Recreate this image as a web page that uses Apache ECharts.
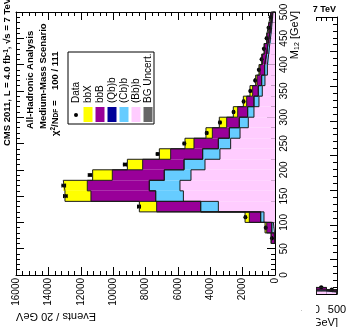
<!DOCTYPE html>
<html>
<head>
<meta charset="utf-8">
<script src="https://cdn.jsdelivr.net/npm/echarts@6/dist/echarts.min.js"></script>
<style>
html, body { margin: 0; padding: 0; background: #fff; }
#main { width: 360px; height: 327px; }
</style>
</head>
<body>
<div id="main"></div>
<script>
// M12 bins (low edge, GeV), 20 GeV wide
var binLow = [60, 80, 100, 120, 140, 160, 180, 200, 220, 240, 260, 280, 300, 320, 340, 360, 380, 400, 420, 440, 460, 480];
var binWidth = 20;

// events / 20 GeV, stacked from the axis outwards
var bbBbEvents = [30, 100, 680, 3500, 5660, 5870, 5190, 4325, 3400, 2740, 2160, 1650, 1300, 990, 785, 620, 470, 390, 320, 240, 180, 120];
var cbBEvents  = [20, 100, 205, 1090, 1710, 1895, 1650, 1295, 1070, 760, 660, 555, 390, 310, 245, 205, 170, 130, 110, 80, 60, 40];
var qbBEvents  = [0, 0, 0, 0, 0, 0, 0, 0, 0, 0, 0, 0, 0, 0, 0, 0, 0, 0, 0, 0, 0, 0];
var bbBEvents  = [180, 310, 700, 2720, 4000, 3830, 3210, 2555, 1975, 1505, 1050, 780, 615, 450, 350, 285, 290, 250, 210, 170, 130, 90];
var bbXEvents  = [15, 105, 265, 1070, 1605, 1485, 1215, 945, 700, 555, 395, 455, 270, 205, 165, 85, 60, 55, 40, 25, 20, 15];
var dataEvents = [190, 575, 1830, 8400, 12950, 13050, 11430, 9270, 7250, 5600, 4220, 3400, 2560, 1940, 1530, 1230, 1000, 830, 690, 520, 400, 270];

// neighbouring figure (not rotated), only its right edge shows
var fragBinLow = [460, 480];
var fragBbBb = [170, 110];
var fragCbB  = [60, 40];
var fragQbB  = [0, 0];
var fragBbB  = [130, 90];
var fragBbX  = [20, 15];
var fragData = [390, 260];

var colBbB = '#ffccff', colCbB = '#66ccff', colQbB = '#000099', colbbB = '#990099', colbbX = '#ffff00', colUnc = '#666666';

var legendNames  = ['Data', 'bbX', 'bbB', '(Qb)b', '(Cb)b', '(Bb)b', 'BG Uncert.'];
var legendColors = [null, colbbX, colbbB, colQbB, colCbB, colBbB, colUnc];

var font = 'Liberation Sans, Arial, Helvetica, sans-serif';

// grid 0: events on x, M12 on y; grid 1: M12 on x, events on y
function pt(gi, v, m) { return gi === 0 ? [v, m] : [m, v]; }

function cumulate(layers) {
  var out = [], run = layers[0].map(function () { return 0; });
  layers.forEach(function (l) {
    var lo = run.slice();
    run = run.map(function (r, i) { return r + l[i]; });
    out.push({ lo: lo, hi: run.slice() });
  });
  return out;
}

function fillSeries(bins, lo, hi, color, gi) {
  return {
    type: 'custom', xAxisIndex: gi === 0 ? 0 : 2, yAxisIndex: gi === 0 ? 0 : 2,
    silent: true,
    data: bins.map(function (b, i) { return [lo[i], hi[i], b]; }),
    renderItem: function (params, api) {
      var m = api.value(2);
      var p0 = api.coord(pt(gi, api.value(0), m));
      var p1 = api.coord(pt(gi, api.value(1), m + binWidth));
      return {
        type: 'rect',
        shape: { x: Math.min(p0[0], p1[0]), y: Math.min(p0[1], p1[1]), width: Math.abs(p1[0] - p0[0]), height: Math.abs(p1[1] - p0[1]) },
        style: { fill: color }
      };
    }
  };
}

function outlineSeries(bins, top, gi) {
  var pts = [pt(gi, 0, bins[0])];
  bins.forEach(function (b, i) { pts.push(pt(gi, top[i], b)); pts.push(pt(gi, top[i], b + binWidth)); });
  pts.push(pt(gi, 0, bins[bins.length - 1] + binWidth));
  return {
    type: 'line', xAxisIndex: gi === 0 ? 0 : 2, yAxisIndex: gi === 0 ? 0 : 2,
    data: pts, symbol: 'none', silent: true,
    lineStyle: { color: '#1a1a1a', width: 1 }
  };
}

function dataSeries(bins, vals, gi) {
  return {
    type: 'custom', xAxisIndex: gi === 0 ? 0 : 2, yAxisIndex: gi === 0 ? 0 : 2,
    silent: true,
    data: bins.map(function (b, i) { return [vals[i], b + binWidth / 2]; }),
    renderItem: function (params, api) {
      var v = api.value(0), m = api.value(1);
      var e = Math.sqrt(v);
      var c = api.coord(pt(gi, v, m));
      var l = api.coord(pt(gi, v - e, m)), r = api.coord(pt(gi, v + e, m));
      var st = { stroke: '#000', lineWidth: 1 };
      var kids;
      if (gi === 0) {
        kids = [
          { type: 'line', shape: { x1: l[0], y1: c[1], x2: r[0], y2: c[1] }, style: st },
          { type: 'line', shape: { x1: l[0], y1: c[1] - 2, x2: l[0], y2: c[1] + 2 }, style: st },
          { type: 'line', shape: { x1: r[0], y1: c[1] - 2, x2: r[0], y2: c[1] + 2 }, style: st }
        ];
      } else {
        kids = [
          { type: 'line', shape: { x1: c[0], y1: l[1], x2: c[0], y2: r[1] }, style: st },
          { type: 'line', shape: { x1: c[0] - 2, y1: l[1], x2: c[0] + 2, y2: l[1] }, style: st },
          { type: 'line', shape: { x1: c[0] - 2, y1: r[1], x2: c[0] + 2, y2: r[1] }, style: st }
        ];
      }
      kids.push({ type: 'circle', shape: { cx: c[0], cy: c[1], r: 2 }, style: { fill: '#000' } });
      return { type: 'group', children: kids };
    }
  };
}

function buildSeries(bins, layers, colors, vals, gi) {
  var cum = cumulate(layers);
  var s = [];
  cum.forEach(function (c, k) { s.push(fillSeries(bins, c.lo, c.hi, colors[k], gi)); });
  cum.forEach(function (c) { s.push(outlineSeries(bins, c.hi, gi)); });
  s.push(dataSeries(bins, vals, gi));
  return s;
}

var layerColors = [colBbB, colCbB, colQbB, colbbB, colbbX];
var series = buildSeries(binLow, [bbBbEvents, cbBEvents, qbBEvents, bbBEvents, bbXEvents], layerColors, dataEvents, 0)
  .concat(buildSeries(fragBinLow, [fragBbBb, fragCbB, fragQbB, fragBbB, fragBbX], layerColors, fragData, 1));

var black = { color: '#000', width: 1 };
function valAxis(extra) {
  var a = {
    type: 'value', scale: false,
    axisLine: { show: true, onZero: false, lineStyle: black },
    axisTick: { show: true, inside: true, length: 8, lineStyle: black },
    minorTick: { show: true, splitNumber: 5, length: 4, lineStyle: black },
    splitLine: { show: false },
    axisLabel: { show: false, color: '#000', fontFamily: font, fontSize: 10,
      formatter: function (v) { return String(v); } }
  };
  for (var k in extra) {
    if (typeof extra[k] === 'object' && a[k]) { for (var j in extra[k]) a[k][j] = extra[k][j]; }
    else a[k] = extra[k];
  }
  return a;
}

// legend + text graphics
var graphics = [];
graphics.push({ type: 'rect', shape: { x: 68, y: 52, width: 86, height: 72 }, style: { fill: '#fff', stroke: '#000', lineWidth: 1 } });
legendNames.forEach(function (n, i) {
  var cx = 76 + i * 12;
  if (legendColors[i]) {
    graphics.push({ type: 'rect', shape: { x: cx - 4.5, y: 107, width: 9, height: 15 }, style: { fill: legendColors[i] } });
  } else {
    graphics.push({ type: 'circle', shape: { cx: cx, cy: 115, r: 2 }, style: { fill: '#000' } });
  }
  graphics.push({ type: 'text', x: cx, y: 103, rotation: Math.PI / 2,
    style: { text: n, fill: '#000', font: '10px ' + font, align: 'left', verticalAlign: 'middle' } });
});

function vtext(x, y, txt, rich, align) {
  return { type: 'text', x: x, y: y, rotation: Math.PI / 2,
    style: { text: txt, rich: rich, fill: '#000', align: align || 'left', verticalAlign: 'middle', fontFamily: font, fontSize: 9.5, fontWeight: 'bold' } };
}
graphics.push(vtext(7.5, 146, '{b|CMS 2011, L = 4.0 fb}{s|-1}{b|, \u221As = 7 TeV}', {
  b: { fontSize: 9.5, fontWeight: 'bold', fontFamily: font },
  s: { fontSize: 6.5, fontWeight: 'bold', fontFamily: font, verticalAlign: 'top' }
}));
graphics.push(vtext(30, 129, 'All-Hadronic Analysis'));
graphics.push(vtext(43, 129, 'Medium-Mass Scenario'));
graphics.push(vtext(55, 136, '{b|\u03C7}{s|2}{b|/N}{d|DF}{b| =    100 / 111}', {
  b: { fontSize: 9.5, fontWeight: 'bold', fontFamily: font },
  s: { fontSize: 6.5, fontWeight: 'bold', fontFamily: font, verticalAlign: 'top' },
  d: { fontSize: 6.5, fontWeight: 'bold', fontFamily: font, verticalAlign: 'bottom' }
}));
// axis titles
graphics.push({ type: 'text', x: 295, y: 11, rotation: Math.PI / 2,
  style: { text: '{a|M}{d|12}{a| [GeV]}', align: 'right', verticalAlign: 'middle', fill: '#000',
    rich: { a: { fontSize: 11, fontFamily: font }, d: { fontSize: 7, fontFamily: font, verticalAlign: 'bottom' } } } });
graphics.push({ type: 'text', x: 56, y: 316, rotation: Math.PI,
  style: { text: 'Events / 20 GeV', align: 'center', verticalAlign: 'middle', fill: '#000', font: '11px ' + font } });
// neighbouring figure texts + the edge that hides the rest of it
graphics.push({ type: 'rect', z: 100, shape: { x: 302, y: 0, width: 14, height: 327 }, style: { fill: '#fff' } });
graphics.push({ type: 'text', z: 101, x: 336, y: 10, style: { text: '7 TeV', align: 'right', verticalAlign: 'middle', fill: '#000', font: 'bold 9px ' + font } });
graphics.push({ type: 'text', x: 338, y: 323, style: { text: '[GeV]', align: 'right', verticalAlign: 'middle', fill: '#000', font: '11px ' + font } });

var chart = echarts.init(document.getElementById('main'), null, { renderer: 'canvas' });
chart.setOption({
  animation: false,
  backgroundColor: '#fff',
  grid: [
    { left: 16, right: 85, top: 12, bottom: 52, show: false },
    { left: 305.5, right: 23, top: 17, bottom: 33, show: false }
  ],
  xAxis: [
    valAxis({ gridIndex: 0, inverse: true, min: 0, max: 16000, interval: 2000, position: 'bottom',
      axisLabel: { show: true, rotate: 90, margin: 3, showMinLabel: true, showMaxLabel: true } }),
    valAxis({ gridIndex: 0, inverse: true, min: 0, max: 16000, interval: 2000, position: 'top' }),
    valAxis({ gridIndex: 1, min: 440, max: 500, interval: 10, position: 'bottom',
      axisTick: { length: 4 }, minorTick: { show: false },
      axisLabel: { show: true, fontSize: 11, margin: 10, showMaxLabel: true,
        formatter: function (v) { return v % 50 === 0 ? String(v) : ''; } } }),
    valAxis({ gridIndex: 1, min: 440, max: 500, interval: 10, position: 'top',
      axisTick: { length: 4 }, minorTick: { show: false } })
  ],
  yAxis: [
    valAxis({ gridIndex: 0, min: 0, max: 500, interval: 50, position: 'right',
      axisLabel: { show: true, rotate: 90, margin: 4, showMinLabel: true, showMaxLabel: true } }),
    valAxis({ gridIndex: 0, min: 0, max: 500, interval: 50, position: 'left' }),
    valAxis({ gridIndex: 1, min: 0, max: 16000, interval: 2000, position: 'right', axisTick: { length: 7 } })
  ],
  graphic: graphics,
  series: series
});
</script>
</body>
</html>
